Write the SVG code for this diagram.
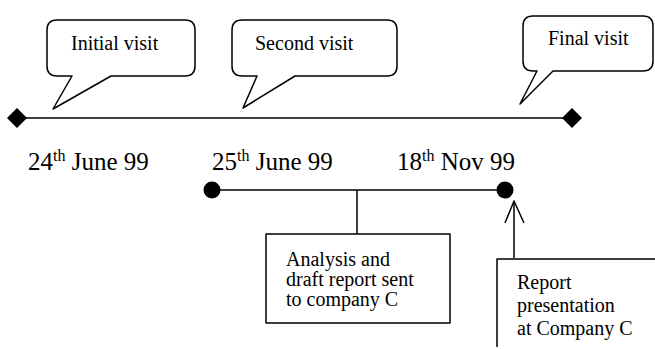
<svg xmlns="http://www.w3.org/2000/svg" width="655" height="349" viewBox="0 0 655 349">
  <style>
    .ln { fill: none; stroke: #000; stroke-width: 1.5; stroke-linejoin: round; }
    .bubble { fill: #fff; stroke: #000; stroke-width: 1.5; stroke-linejoin: round; }
    .txt { font-family: "Liberation Serif", "Times New Roman", serif; font-size: 20px; fill: #000; }
    .date { font-family: "Liberation Serif", "Times New Roman", serif; font-size: 25px; fill: #000; }
    .sup { font-size: 16px; }
    .mark { fill: #000; }
  </style>
  <rect width="655" height="349" fill="#fff"/>

  <g id="connectors">
    <!-- main timeline -->
    <line class="ln" x1="17" y1="118" x2="572" y2="118"/>
    <!-- second period line -->
    <line class="ln" x1="212" y1="190" x2="505" y2="190"/>
    <!-- drop to analysis box -->
    <line class="ln" x1="357" y1="190" x2="357" y2="234"/>
    <!-- arrow up from presentation box -->
    <line class="ln" x1="514" y1="258" x2="514" y2="201"/>
    <polyline class="ln" points="505,223 514,201 524,223"/>
  </g>

  <g id="start-marker">
    <polygon class="mark" points="17,108 27,118 17,128 7,118"/>
  </g>
  <g id="end-marker">
    <polygon class="mark" points="572,108 582,118 572,128 562,118"/>
  </g>

  <g id="initial-visit">
    <path class="bubble" d="M57,20 H185 Q195,20 195,30 V66 Q195,76 185,76 H111 L53,109 L72,76 H57 Q47,76 47,66 V30 Q47,20 57,20 Z"/>
    <text class="txt" x="71" y="50">Initial visit</text>
  </g>

  <g id="second-visit">
    <path class="bubble" d="M242,20 H387 Q397,20 397,30 V66 Q397,76 387,76 H295 L243,108 L257,76 H242 Q232,76 232,66 V30 Q232,20 242,20 Z"/>
    <text class="txt" x="255" y="50">Second visit</text>
  </g>

  <g id="final-visit">
    <path class="bubble" d="M533,16 H643 Q653,16 653,26 V61 Q653,71 643,71 H553 L520,104 L537,71 H533 Q523,71 523,61 V26 Q523,16 533,16 Z"/>
    <text class="txt" x="548" y="45">Final visit</text>
  </g>

  <g id="date-24-june">
    <text class="date" x="28" y="170">24<tspan class="sup" dy="-9">th</tspan><tspan dy="9"> June 99</tspan></text>
  </g>

  <g id="date-25-june">
    <circle class="mark" cx="212" cy="190" r="8.5"/>
    <text class="date" x="212" y="170">25<tspan class="sup" dy="-9">th</tspan><tspan dy="9"> June 99</tspan></text>
  </g>

  <g id="date-18-nov">
    <circle class="mark" cx="505" cy="190" r="8.5"/>
    <text class="date" x="397" y="170">18<tspan class="sup" dy="-9">th</tspan><tspan dy="9"> Nov 99</tspan></text>
  </g>

  <g id="analysis-box">
    <rect class="ln" x="266" y="234" width="184" height="89"/>
    <text class="txt" x="286" y="266">Analysis and</text>
    <text class="txt" x="286" y="286">draft report sent</text>
    <text class="txt" x="286" y="306">to company C</text>
  </g>

  <g id="presentation-box">
    <path class="ln" d="M660,259 H497 V347"/>
    <text class="txt" x="517" y="289">Report</text>
    <text class="txt" x="517" y="312">presentation</text>
    <text class="txt" x="517" y="335">at Company C</text>
  </g>
</svg>
